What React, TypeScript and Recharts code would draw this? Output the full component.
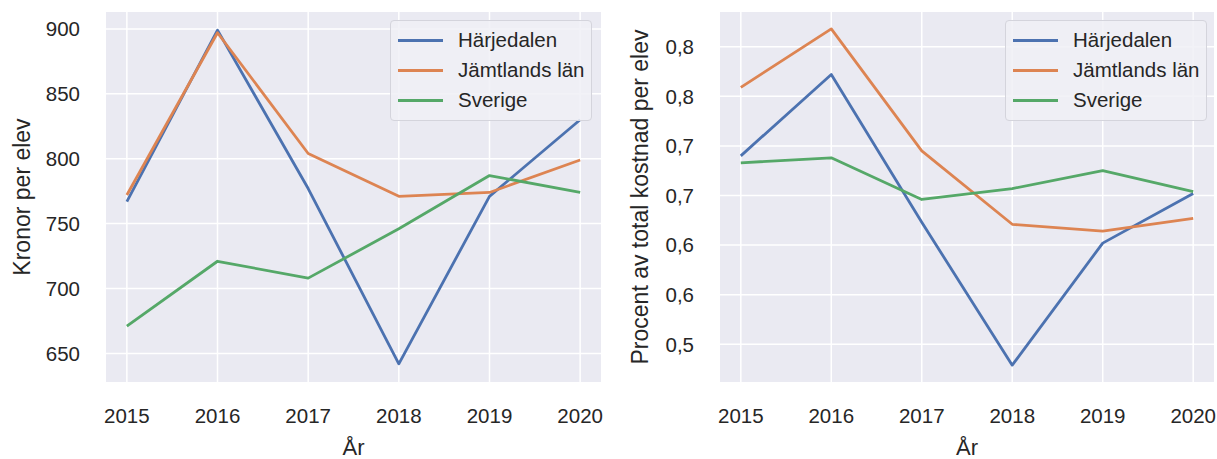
import React from "react";
import { LineChart, Line, XAxis, YAxis, CartesianGrid, Legend } from "recharts";

// år på x-axeln
const years = [2015, 2016, 2017, 2018, 2019, 2020];

// kronor per elev
const kronorHarjedalen = [767, 899, 777, 642, 771, 830];
const kronorJamtland = [772, 897, 804, 771, 774, 799];
const kronorSverige = [671, 721, 708, 746, 787, 774];

// procent av total kostnad per elev
const procentHarjedalen = [0.74, 0.822, 0.673, 0.529, 0.652, 0.702];
const procentJamtland = [0.809, 0.868, 0.745, 0.671, 0.664, 0.677];
const procentSverige = [0.733, 0.738, 0.696, 0.707, 0.725, 0.704];

const kronorTicks = [650, 700, 750, 800, 850, 900];
const procentTicks = [0.55, 0.6, 0.65, 0.7, 0.75, 0.8, 0.85];
const procentTickLabels = ["0,5", "0,6", "0,6", "0,7", "0,7", "0,8", "0,8"];

const seriesNames = ["Härjedalen", "Jämtlands län", "Sverige"];
const colors = ["#4c72b0", "#dd8452", "#55a868"];

const FONT = '"Liberation Sans", Arial, sans-serif';
const TEXT = "#262626";

const kronorData = years.map((year, i) => ({
  year,
  a: kronorHarjedalen[i],
  b: kronorJamtland[i],
  c: kronorSverige[i],
}));

const procentData = years.map((year, i) => ({
  year,
  a: procentHarjedalen[i],
  b: procentJamtland[i],
  c: procentSverige[i],
}));

function YTitle({ viewBox, text, cx }: any) {
  const cy = viewBox.y + viewBox.height / 2;
  return (
    <text
      x={cx}
      y={cy}
      transform={`rotate(-90, ${cx}, ${cy})`}
      textAnchor="middle"
      dominantBaseline="central"
      fill={TEXT}
      fontSize={23}
      fontFamily={FONT}
    >
      {text}
    </text>
  );
}

function XTitle({ viewBox }: any) {
  return (
    <text
      x={viewBox.x + viewBox.width / 2}
      y={viewBox.y + 65}
      textAnchor="middle"
      dominantBaseline="central"
      fill={TEXT}
      fontSize={22}
      fontFamily={FONT}
    >
      År
    </text>
  );
}

function LegendBox({ payload }: any) {
  return (
    <div
      style={{
        background: "rgba(240,240,246,0.85)",
        border: "1px solid #d4d4dc",
        borderRadius: 4,
        padding: "4px 8px 5px 7px",
        fontFamily: FONT,
        fontSize: 20.5,
        color: TEXT,
        boxSizing: "border-box",
      }}
    >
      {(payload || []).map((entry: any) => (
        <div
          key={entry.value}
          style={{ display: "flex", alignItems: "center", height: 30, whiteSpace: "nowrap" }}
        >
          <span
            style={{
              display: "inline-block",
              width: 45,
              height: 3,
              background: entry.color,
              marginRight: 15,
              flexShrink: 0,
            }}
          />
          {entry.value}
        </div>
      ))}
    </div>
  );
}

function Panel({
  data,
  width,
  yWidth,
  right,
  domain,
  ticks,
  tickFormatter,
  title,
  titleX,
  legendLeft,
}: any) {
  return (
    <LineChart
      width={width}
      height={459}
      data={data}
      margin={{ top: 12, right, bottom: 0, left: 0 }}
    >
      <CartesianGrid
        fill="#eaeaf2"
        stroke="#ffffff"
        strokeWidth={1.5}
        verticalValues={years}
        horizontalValues={ticks}
      />
      <XAxis
        dataKey="year"
        type="number"
        domain={[2014.77, 2020.23]}
        ticks={years}
        allowDataOverflow
        height={77}
        axisLine={false}
        tickLine={false}
        tickSize={0}
        tickMargin={26}
        tick={{ fill: TEXT, fontSize: 20.5, fontFamily: FONT }}
        label={<XTitle />}
      />
      <YAxis
        type="number"
        domain={domain}
        ticks={ticks}
        allowDataOverflow
        width={yWidth}
        axisLine={false}
        tickLine={false}
        tickSize={0}
        tickMargin={26}
        tickFormatter={tickFormatter}
        tick={{ fill: TEXT, fontSize: 20.5, fontFamily: FONT }}
        label={<YTitle text={title} cx={titleX} />}
      />
      <Legend
        layout="horizontal"
        align="center"
        verticalAlign="middle"
        content={<LegendBox />}
        wrapperStyle={{ top: 20, left: legendLeft, width: 202, height: 98 }}
      />
      {["a", "b", "c"].map((key, i) => (
        <Line
          key={key}
          dataKey={key}
          name={seriesNames[i]}
          type="linear"
          stroke={colors[i]}
          strokeWidth={2.8}
          strokeLinejoin="round"
          dot={false}
          activeDot={false}
          isAnimationActive={false}
        />
      ))}
    </LineChart>
  );
}

export default function App() {
  return (
    <div style={{ display: "flex", width: 1217, height: 459, background: "#fff" }}>
      <style>{`body { margin: 0; }`}</style>
      <Panel
        data={kronorData}
        width={608}
        yWidth={106}
        right={7}
        domain={[628, 913]}
        ticks={kronorTicks}
        tickFormatter={(v: number) => String(v)}
        title="Kronor per elev"
        titleX={22}
        legendLeft={390}
      />
      <Panel
        data={procentData}
        width={609}
        yWidth={112}
        right={3}
        domain={[0.512, 0.885]}
        ticks={procentTicks}
        tickFormatter={(v: number) => procentTickLabels[procentTicks.indexOf(v)]}
        title="Procent av total kostnad per elev"
        titleX={32}
        legendLeft={397}
      />
    </div>
  );
}
